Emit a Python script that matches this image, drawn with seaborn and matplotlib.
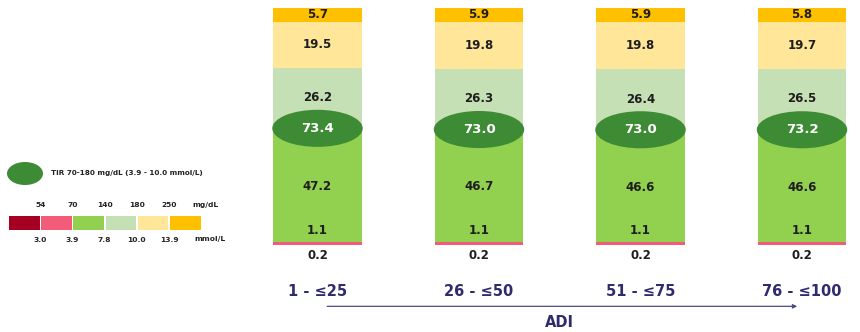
import matplotlib
matplotlib.use("Agg")
import matplotlib.pyplot as plt
from matplotlib.patches import Ellipse, Rectangle
import numpy as np
import seaborn as sns

# ---- data ----
categories = ["1 - ≤25", "26 - ≤50", "51 - ≤75", "76 - ≤100"]
very_low = [0.2, 0.2, 0.2, 0.2]
low = [1.1, 1.1, 1.1, 1.1]
tir_low = [47.2, 46.7, 46.6, 46.6]
tir_high = [26.2, 26.3, 26.4, 26.5]
high = [19.5, 19.8, 19.8, 19.7]
very_high = [5.7, 5.9, 5.9, 5.8]
tir = [73.4, 73.0, 73.0, 73.2]

mg_ticks = ["54", "70", "140", "180", "250"]
mmol_ticks = ["3.0", "3.9", "7.8", "10.0", "13.9"]

colors = ["#A50021", "#F25C78", "#92D050", "#C5E0B4", "#FFE699", "#FFC000"]
ell_color = "#3E8B35"
navy = "#2E2B6E"

sns.set_theme(style="white")
plt.rcParams["font.family"] = ["DejaVu Sans"]

fig = plt.figure(figsize=(8.6, 3.32), dpi=100)

# legend axes (pixel coords)
axl = fig.add_axes([0, 0, 260 / 860, 1])
axl.set_xlim(0, 260)
axl.set_ylim(332, 0)
axl.axis("off")

# main axes
ax = fig.add_axes([260 / 860, 0, 600 / 860, 1])
ax.patch.set_alpha(0)

segments = [very_low, low, tir_low, tir_high, high, very_high]
cum = np.cumsum(np.array(segments), axis=0)
# draw from top cumulative down so stacks show
for k in range(len(segments) - 1, -1, -1):
    sns.barplot(x=categories, y=cum[k], color=colors[k], saturation=1,
                width=0.55, ax=ax, linewidth=0)

ax.set_xlim(-0.356, 3.359)
ax.set_ylim(-36.4, 103.3)
ax.axis("off")

txt = dict(ha="center", va="center", fontsize=8.5, fontweight="bold", color="#1E1E1E")
for i in range(len(categories)):
    c = cum[:, i]
    ax.text(i, (c[4] + c[5]) / 2, f"{very_high[i]:.1f}", **txt)
    ax.text(i, (c[3] + c[4]) / 2, f"{high[i]:.1f}", **txt)
    ax.text(i, (c[2] + c[3]) / 2 + 0.5, f"{tir_high[i]:.1f}", **txt)
    ax.text(i, (c[1] + c[2]) / 2, f"{tir_low[i]:.1f}", **txt)
    ax.text(i, c[1] + 5.2, f"{low[i]:.1f}", **txt)
    ax.text(i, -4.4, f"{very_low[i]:.1f}", **txt)
    ax.add_patch(Ellipse((i, c[2] + 0.8), 0.56, 15.6, color=ell_color, lw=0, zorder=5))
    ax.text(i, c[2] + 0.8, f"{tir[i]:.1f}", ha="center", va="center", fontsize=9.5,
            fontweight="bold", color="white", zorder=6)
    ax.text(i, -19.3, categories[i], ha="center", va="center", fontsize=10.5,
            fontweight="bold", color=navy)

ax.annotate("", xy=(2.97, -25.6), xytext=(0.06, -25.6),
            arrowprops=dict(arrowstyle="-|>", color="#4A4A86", lw=0.9,
                            mutation_scale=6, shrinkA=0, shrinkB=0))
ax.text(1.5, -32.3, "ADI", ha="center", va="center", fontsize=10.5,
        fontweight="bold", color=navy)

# ---- legend ----
axl.add_patch(Ellipse((25, 173.5), 36, 23, color=ell_color, lw=0))
axl.text(51, 173, "TIR 70-180 mg/dL (3.9 - 10.0 mmol/L)", ha="left", va="center",
         fontsize=5.2, fontweight="bold", color="#222222")
x0 = 9
for k, col in enumerate(colors):
    axl.add_patch(Rectangle((x0 + k * 32.2, 216), 30.5, 14, color=col, lw=0))
for k, (m, mm) in enumerate(zip(mg_ticks, mmol_ticks)):
    bx = x0 + (k + 1) * 32.2 - 1
    axl.text(bx, 205, m, ha="center", va="center", fontsize=5.4,
             fontweight="bold", color="#222222")
    axl.text(bx, 239.5, mm, ha="center", va="center", fontsize=5.4,
             fontweight="bold", color="#222222")
axl.text(192, 205, "mg/dL", ha="left", va="center", fontsize=5.4,
         fontweight="bold", color="#222222")
axl.text(194, 239.5, "mmol/L", ha="left", va="center", fontsize=5.4,
         fontweight="bold", color="#222222")

fig.savefig("out.png", dpi=100)
